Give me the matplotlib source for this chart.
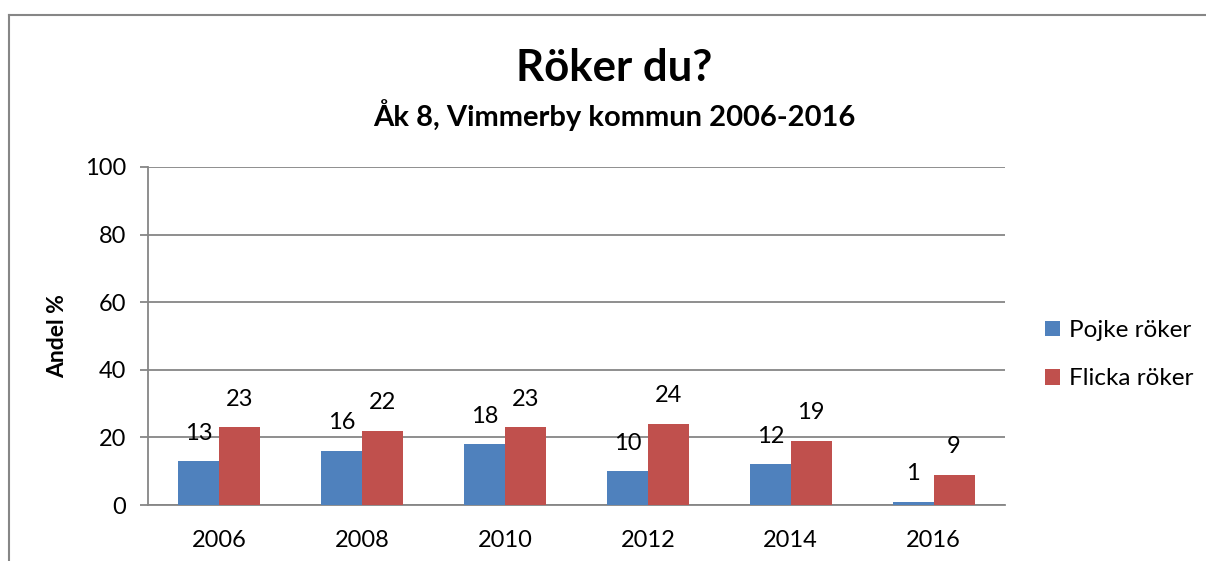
import matplotlib
matplotlib.use("Agg")
import matplotlib.pyplot as plt
from matplotlib.lines import Line2D
import numpy as np

plt.rcParams['font.family'] = ['Lato', 'DejaVu Sans']

years = ["2006", "2008", "2010", "2012", "2014", "2016"]
pojke = [13, 16, 18, 10, 12, 1]
flicka = [23, 22, 23, 24, 19, 9]
series_names = ["Pojke röker", "Flicka röker"]
yticks = [0, 20, 40, 60, 80, 100]

W, H = 1206, 561
fig = plt.figure(figsize=(W / 100, H / 100), dpi=100)

left, right, top, bottom = 148, 1005, 167, 505
ax = fig.add_axes([left / W, 1 - bottom / H, (right - left) / W, (bottom - top) / H])

blue = "#4F81BD"
red = "#C0504D"
grey = "#868686"
fs = 17

x = np.arange(len(years))
bw = 0.287
b1 = ax.bar(x - bw / 2, pojke, bw, color=blue, label=series_names[0], zorder=3)
b2 = ax.bar(x + bw / 2, flicka, bw, color=red, label=series_names[1], zorder=3)

for bars, vals in ((b1, pojke), (b2, flicka)):
    for rect, v in zip(bars, vals):
        ax.annotate(str(v), (rect.get_x() + rect.get_width() / 2, v),
                    xytext=(0, 28), textcoords="offset pixels",
                    ha="center", va="center", fontsize=fs, color="black")

ax.set_xlim(-0.5, len(years) - 0.5)
ax.set_ylim(0, 100)
ax.set_yticks(yticks)
ax.set_yticklabels([str(t) for t in yticks])
ax.set_xticks(x)
ax.set_xticklabels(years)
ax.tick_params(axis='y', length=6, color=grey, width=1.3, labelsize=fs, pad=10)
ax.tick_params(axis='x', length=0, labelsize=fs, pad=18)
ax.yaxis.grid(True, color=grey, linewidth=1.3, zorder=0)
ax.set_axisbelow(True)
for s in ("top", "right"):
    ax.spines[s].set_visible(False)
for s in ("left", "bottom"):
    ax.spines[s].set_color(grey)
    ax.spines[s].set_linewidth(1.3)

ax.set_ylabel("Andel %", fontsize=16.5, fontweight="bold", labelpad=12)

fig.text(614 / W, 1 - 68 / H, "Röker du?", ha="center", va="center",
         fontsize=31.5, fontweight="bold")
fig.text(614 / W, 1 - 115 / H, "Åk 8, Vimmerby kommun 2006-2016", ha="center",
         va="center", fontsize=21, fontweight="bold")

# chart border
fig.add_artist(Line2D([9 / W, 9 / W], [0, 1 - 15 / H], color=grey, lw=1.5,
                      transform=fig.transFigure))
fig.add_artist(Line2D([9 / W, 1], [1 - 15 / H, 1 - 15 / H], color=grey, lw=1.5,
                      transform=fig.transFigure))

leg = fig.legend(handles=[b1, b2], labels=series_names, loc="upper left",
                 bbox_to_anchor=(1045 / W, 1 - 320 / H), frameon=False,
                 fontsize=17.5, handlelength=0.62, handleheight=0.62,
                 handletextpad=0.35, labelspacing=1.13, borderaxespad=0,
                 borderpad=0)

fig.savefig("out.png", dpi=100)
